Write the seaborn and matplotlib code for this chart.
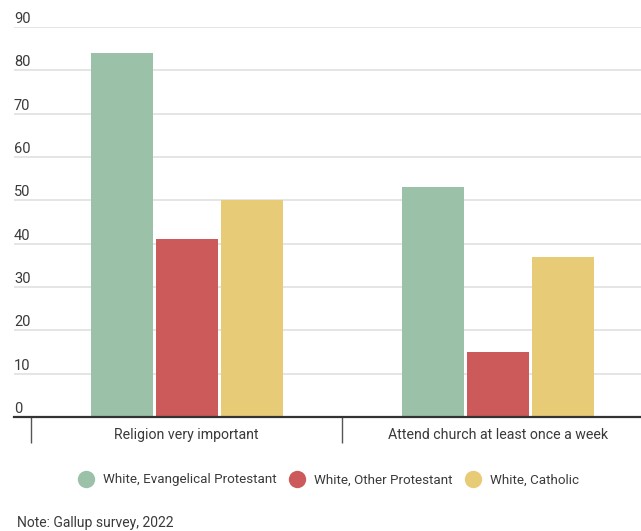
import pandas as pd
import matplotlib.pyplot as plt
import matplotlib.transforms as mtransforms
from matplotlib.lines import Line2D
import seaborn as sns

# Values
categories = ['Religion very important', 'Attend church at least once a week']
groups = ['White, Evangelical Protestant', 'White, Other Protestant', 'White, Catholic']
evangelical = [84, 53]
other_protestant = [41, 15]
catholic = [50, 37]
y_ticks = [0, 10, 20, 30, 40, 50, 60, 70, 80, 90]
colors = ['#9bc1a8', '#cc5a5a', '#e8cb76']
note = 'Note: Gallup survey, 2022'

rows = []
for grp, vals in zip(groups, [evangelical, other_protestant, catholic]):
    for cat, v in zip(categories, vals):
        rows.append({'category': cat, 'group': grp, 'value': v})
df = pd.DataFrame(rows)

sns.set_style('white')
plt.rcParams['font.family'] = ['Roboto', 'DejaVu Sans']
text_color = '#3a3a3a'

fig = plt.figure(figsize=(6.41, 5.31), dpi=100)
ax = fig.add_axes([14 / 641, 114 / 531, 1 - 14 / 641, 390 / 531])

sns.barplot(data=df, x='category', y='value', hue='group', order=categories,
            hue_order=groups, palette=colors, width=0.627, gap=0.046,
            saturation=1, edgecolor='none', legend=False, ax=ax, zorder=2)

ax.set_yticks(y_ticks)
ax.set_yticklabels([])
ax.tick_params(axis='y', length=0)
ax.yaxis.grid(True, color='#dedede', linewidth=1.1, zorder=0)
ax.set_axisbelow(True)

for side in ['top', 'right', 'left']:
    ax.spines[side].set_visible(False)
ax.spines['bottom'].set_color('#333333')
ax.spines['bottom'].set_linewidth(1.6)
ax.spines['bottom'].set_zorder(3)

# separators between the categories
ax.set_xticks([-0.5, 0.5], minor=True)
ax.tick_params(axis='x', which='minor', bottom=True, length=19, width=1,
               color='#555555', direction='out')
ax.tick_params(axis='x', which='major', length=0, pad=8, labelsize=10.2, labelcolor=text_color)
ax.set_xlabel('')
ax.set_ylabel('')

ax.set_ylim(0, 90)
ax.set_xlim(-0.555, 1.461)

# y labels sit above the gridlines
trans = mtransforms.blended_transform_factory(ax.transAxes, ax.transData)
offset = mtransforms.offset_copy(trans, fig=fig, x=0, y=4, units='dots')
for t in y_ticks:
    ax.text(0, t, str(t), transform=offset, ha='left', va='baseline',
            fontsize=10.5, color=text_color)

handles = [Line2D([], [], marker='o', linestyle='none', markersize=12.5,
                  markerfacecolor=c, markeredgecolor='none') for c in colors]
fig.legend(handles, groups, loc='center', bbox_to_anchor=(329 / 641, 51 / 531),
           ncol=3, frameon=False, fontsize=9.6, labelcolor=text_color,
           handlelength=1, handletextpad=0.75, columnspacing=1.05)

fig.text(17 / 641, 8 / 531, note, ha='left', va='center', fontsize=10, color=text_color)

plt.savefig('out.png', dpi=100)
